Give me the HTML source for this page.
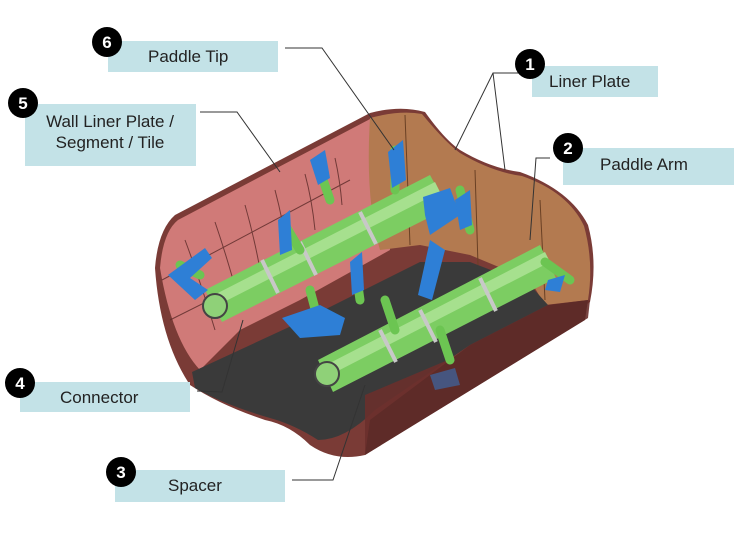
<!DOCTYPE html>
<html><head><meta charset="utf-8"><style>
html,body{margin:0;padding:0;background:#fff;}
svg{display:block;}
text{font-family:"Liberation Sans",Arial,sans-serif;}
</style></head><body>
<svg width="748" height="540" viewBox="0 0 748 540" xmlns="http://www.w3.org/2000/svg">
<rect width="748" height="540" fill="#fff"/>
<!-- outer shell -->
<path d="M155,268 Q158,230 175,215 L370,113 Q400,105 425,112 Q445,140 460,150 Q490,168 520,172 Q570,190 588,225 Q598,262 590,302 L365,455 Q335,462 310,445 Q290,425 265,420 Q220,405 190,385 Q160,340 155,268 Z" fill="#7a3b36"/>
<!-- pink liner inside left -->
<path d="M160,268 Q163,232 178,220 L372,118 L380,160 L390,250 L300,300 L240,330 L200,370 Q172,340 160,268 Z" fill="#d07a78"/>
<!-- tan end cap -->
<path d="M370,118 Q400,110 422,114 Q445,142 460,153 Q492,172 522,176 Q568,192 584,226 Q594,262 588,300 L545,305 L530,280 L470,255 L420,245 L380,250 Q365,200 370,118 Z" fill="#b37a50"/>
<!-- dark floor -->
<path d="M192,372 L300,322 L420,262 L470,262 L530,285 L548,305 L470,345 L375,410 Q345,440 318,440 Q295,425 270,418 Q225,405 195,388 Z" fill="#3a3a3a"/>
<!-- right bottom shell -->
<path d="M365,395 L590,300 L588,318 L365,455 Z" fill="#6a302c" opacity="0.9"/>
<path d="M470,345 L548,305 L588,300 L585,320 L365,455 L370,420 Z" fill="#5e2b28"/>
<!-- grid lines on pink -->
<g stroke="#5a2a28" stroke-width="1" fill="none" opacity="0.8">
<path d="M185,240 Q200,280 215,330"/><path d="M215,222 Q228,260 240,305"/><path d="M245,205 Q255,240 262,280"/><path d="M275,190 Q283,220 288,255"/><path d="M305,174 Q312,200 315,230"/><path d="M335,158 Q340,180 342,205"/>
<path d="M162,280 L350,180"/><path d="M170,320 L300,255"/>
</g>
<!-- end cap lines -->
<g stroke="#6a4024" stroke-width="1" fill="none"><path d="M405,115 L410,245"/><path d="M475,170 L478,265"/><path d="M540,200 L545,300"/></g>
<!-- shafts -->
<g>
<path d="M205,290 L430,175 L448,208 L222,322 Z" fill="#7ccd62"/>
<path d="M212,296 L435,182 L440,192 L216,306 Z" fill="#a6e08e"/>
<path d="M318,360 L540,245 L556,278 L333,392 Z" fill="#7ccd62"/>
<path d="M324,366 L545,252 L550,262 L328,376 Z" fill="#a6e08e"/>
<g stroke="#c8c8c8" stroke-width="4"><path d="M262,260 L278,293"/><path d="M300,242 L316,275"/><path d="M360,212 L376,244"/><path d="M380,330 L396,362"/><path d="M420,310 L436,342"/><path d="M480,278 L496,311"/></g>
<circle cx="215" cy="306" r="12" fill="#8fd178" stroke="#444" stroke-width="2"/>
<circle cx="327" cy="374" r="12" fill="#8fd178" stroke="#444" stroke-width="2"/>
</g>
<!-- arms -->
<g stroke="#6cc552" stroke-width="9" stroke-linecap="round" fill="none">
<path d="M330,200 L318,165"/><path d="M395,190 L395,150"/><path d="M300,250 L285,225"/><path d="M310,290 L318,320"/><path d="M360,300 L355,265"/><path d="M395,330 L385,300"/><path d="M470,230 L460,190"/><path d="M440,330 L450,360"/><path d="M545,262 L570,280"/><path d="M200,275 L180,265"/>
</g>
<!-- blue paddles -->
<g fill="#2e7fd6">
<path d="M310,160 L325,150 L330,178 L318,185 Z"/>
<path d="M388,152 L403,140 L406,180 L392,188 Z"/>
<path d="M278,220 L290,210 L292,250 L280,255 Z"/>
<path d="M168,275 L205,248 L212,258 L190,278 L208,290 L195,300 Z"/>
<path d="M423,197 L450,188 L460,215 L430,235 L425,215 Z"/>
<path d="M455,200 L470,190 L472,225 L460,230 Z"/>
<path d="M282,318 L320,305 L345,318 L340,335 L300,338 Z"/>
<path d="M350,262 L362,252 L364,290 L352,295 Z"/>
<path d="M430,240 L445,250 L432,300 L418,295 Z"/>
<path d="M548,280 L565,275 L560,292 L545,290 Z"/>
<path d="M430,375 L455,368 L460,385 L435,390 Z" opacity="0.5"/>
</g>
<!-- leader lines -->
<g stroke="#333" stroke-width="1" fill="none">
<path d="M285,48 L322,48 L394,150"/>
<path d="M200,112 L237,112 L280,172"/>
<path d="M528,73 L493,73 L455,150 M493,73 L505,170"/>
<path d="M550,158 L536,158 L530,240"/>
<path d="M197,391 L222,392 L243,320"/>
<path d="M292,480 L333,480 L365,385"/>
</g>
<!-- labels -->
<g fill="#c3e2e7">
<rect x="108" y="41" width="170" height="31"/>
<rect x="25" y="104" width="171" height="62"/>
<rect x="532" y="66" width="126" height="31"/>
<rect x="563" y="148" width="171" height="37"/>
<rect x="20" y="382" width="170" height="30"/>
<rect x="115" y="470" width="170" height="32"/>
</g>
<g font-size="17" fill="#222">
<text x="148" y="62">Paddle Tip</text>
<text x="110" y="127" text-anchor="middle">Wall Liner Plate /</text>
<text x="110" y="148" text-anchor="middle">Segment / Tile</text>
<text x="549" y="87">Liner Plate</text>
<text x="600" y="170">Paddle Arm</text>
<text x="60" y="403">Connector</text>
<text x="168" y="491">Spacer</text>
</g>
<g fill="#000">
<circle cx="107" cy="42" r="15"/><circle cx="23" cy="103" r="15"/><circle cx="530" cy="64" r="15"/><circle cx="568" cy="148" r="15"/><circle cx="20" cy="383" r="15"/><circle cx="121" cy="472" r="15"/>
</g>
<g fill="#fff" font-size="17" font-weight="bold" text-anchor="middle">
<text x="107" y="48">6</text><text x="23" y="109">5</text><text x="530" y="70">1</text><text x="568" y="154">2</text><text x="20" y="389">4</text><text x="121" y="478">3</text>
</g>
</svg>
</body></html>
